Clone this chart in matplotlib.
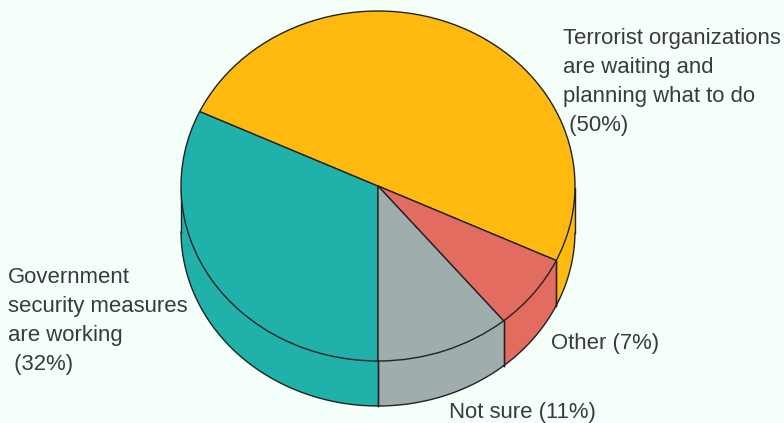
import numpy as np
import matplotlib
matplotlib.use("Agg")
import matplotlib.pyplot as plt

labels = ["Government\nsecurity measures\nare working\n (32%)",
          "Terrorist organizations\nare waiting and\nplanning what to do\n (50%)",
          "Other (7%)",
          "Not sure (11%)"]
values = [32, 50, 7, 11]
colors = ["#20b2aa", "#ffb90f", "#e36c60", "#a0adad"]
label_x = [8, 563, 551, 449]
label_y = [267, 28, 333, 402]

plt.rcParams["font.family"] = ["Liberation Sans", "DejaVu Sans"]
BG = "#f5fffa"
EDGE = "#222222"

W, H = 784, 423
cx, cy = 378, 186
rx, ry = 197, 175
depth = 45

fig = plt.figure(figsize=(W / 100, H / 100), dpi=100, facecolor=BG)
ax = fig.add_axes([0, 0, 1, 1])

# pie starts straight down and runs clockwise
# the axes are scaled so the unit circle comes out as the ellipse
start = 270
depth_u = depth / ry
angles = start - np.cumsum([0] + values) * 3.6

# side wall first, only the part facing the viewer (180..360 deg)
for i in range(len(values)):
    a1 = angles[i]
    a2 = angles[i + 1]
    t = np.linspace(a1, a2, 200)
    t = t[np.sin(np.radians(t)) <= 0]
    if len(t) == 0:
        continue
    x = np.cos(np.radians(t))
    y = np.sin(np.radians(t))
    px = np.r_[x, x[::-1]]
    py = np.r_[y, y[::-1] - depth_u]
    ax.fill(px, py, facecolor=colors[i], edgecolor="none", zorder=1)
    ax.plot(x, y - depth_u, color=EDGE, lw=1, zorder=2)
    ax.plot([x[0], x[0]], [y[0], y[0] - depth_u], color=EDGE, lw=1, zorder=2)
    ax.plot([x[-1], x[-1]], [y[-1], y[-1] - depth_u], color=EDGE, lw=1, zorder=2)

wedges, _ = ax.pie(values, colors=colors, startangle=start, counterclock=False,
                   radius=1, wedgeprops={"edgecolor": EDGE, "linewidth": 1})
for w in wedges:
    w.set_zorder(3)

ax.set_aspect("auto")
ax.set_xlim(-cx / rx, (W - cx) / rx)
ax.set_ylim((cy - H) / ry, cy / ry)
ax.axis("off")


def to_data(px, py):
    return (px - cx) / rx, (cy - py) / ry


for lab, lx, ly in zip(labels, label_x, label_y):
    x, y = to_data(lx, ly)
    ax.text(x, y, lab, fontsize=15.9, color="#3a3a3a", va="top", ha="left",
            linespacing=1.5, zorder=5)

fig.savefig("out.png", dpi=100, facecolor=BG)
